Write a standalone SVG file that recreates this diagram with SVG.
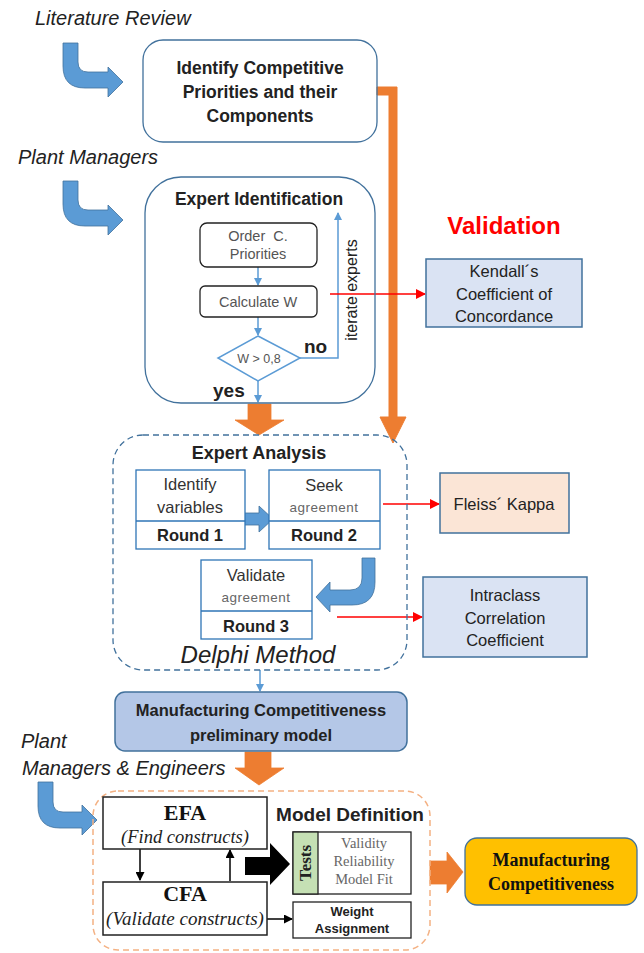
<svg xmlns="http://www.w3.org/2000/svg" width="644" height="953" viewBox="0 0 644 953">
<defs>
<marker id="mBlue" markerWidth="8" markerHeight="8" refX="7" refY="4" orient="auto" markerUnits="userSpaceOnUse"><path d="M0,0 L8,4 L0,8 Z" fill="#5b9bd5"/></marker>
<marker id="mRed" markerWidth="10" markerHeight="10" refX="9" refY="5" orient="auto" markerUnits="userSpaceOnUse"><path d="M0,0 L10,5 L0,10 Z" fill="#ff0000"/></marker>
<marker id="mBlack" markerWidth="9" markerHeight="9" refX="8" refY="4.5" orient="auto" markerUnits="userSpaceOnUse"><path d="M0,0 L9,4.5 L0,9 Z" fill="#000"/></marker>
<style>
.sans{font-family:"Liberation Sans","Open Sans",sans-serif}
.serif{font-family:"Liberation Serif","DejaVu Serif",serif}
.it{font-family:"Liberation Sans",sans-serif;font-style:italic;font-size:20px;fill:#222}
.b{font-weight:bold}
.c{text-anchor:middle}
.blk{fill:none;stroke:#41719c;stroke-width:1.3}
.bluearrow{fill:#5b9bd5;stroke:#41719c;stroke-width:0.8}
.orange{fill:#ed7d31;stroke:#ed7d31}
.thin{fill:none;stroke:#5b9bd5;stroke-width:1.5}
.red{fill:none;stroke:#ff0000;stroke-width:1.3}
.blackln{fill:none;stroke:#000;stroke-width:1.5}
</style>
</defs>

<g id="labels">
<text class="it" x="35" y="25">Literature Review</text>
<text class="it" x="18" y="164">Plant Managers</text>
<text class="it" x="21" y="748">Plant</text>
<text class="it" x="22" y="775">Managers &amp; Engineers</text>
<text class="sans b c" x="504" y="234" font-size="24" fill="#ff0000">Validation</text>
</g>

<g id="connectors">
<path class="bluearrow" d="M63,43 L78,43 L78,62 Q78,72 88,72 L108,72 L108,67 L123,82 L108,97 L108,88 L85,88 Q63,88 63,66 Z"/>
<path class="bluearrow" d="M63,181 L78,181 L78,200 Q78,210 88,210 L108,210 L108,205 L123,220 L108,235 L108,226 L85,226 Q63,226 63,204 Z"/>
<path class="bluearrow" d="M38,782 L53,782 L53,802 Q53,812 63,812 L82,812 L82,805 L97,820 L82,835 L82,828 L60,828 Q38,828 38,806 Z"/>
<path class="bluearrow" d="M238,513 L259,513 L259,506 L273,519 L259,532 L259,525 L238,525 Z"/>
<path class="bluearrow" d="M362,558 L375,558 L375,582 Q375,605 352,605 L330,605 L330,612 L316,597 L330,582 L330,590 L350,590 Q362,590 362,578 Z"/>
<path class="orange" d="M377,87 L397,87 L397,417 L406,417 L393,443 L380,417 L389,417 L389,95 L377,95 Z"/>
<path class="orange" d="M248,404 L271,404 L271,420 L284,420 L259,435 L235,420 L248,420 Z" stroke="#41719c" stroke-width="0.8"/>
<path class="orange" d="M245,752 L271,752 L271,768 L284,768 L259,785 L235,768 L245,768 Z" stroke="#41719c" stroke-width="0.8"/>
<path class="orange" d="M430,861 L447,861 L447,852 L463,872 L447,893 L447,884 L430,884 Z" stroke="#41719c" stroke-width="0.8"/>
<path d="M245,857 L270,857 L270,843 L290,864 L270,885 L270,875 L245,875 Z" fill="#000"/>
<line class="thin" x1="258" y1="267" x2="258" y2="285" marker-end="url(#mBlue)"/>
<line class="thin" x1="258" y1="317" x2="258" y2="335" marker-end="url(#mBlue)"/>
<polyline class="thin" points="300,358 338,358 338,213" marker-end="url(#mBlue)"/>
<line class="thin" x1="258" y1="381" x2="258" y2="402" marker-end="url(#mBlue)"/>
<line class="thin" x1="260" y1="670" x2="260" y2="691" marker-end="url(#mBlue)"/>
<line class="red" x1="330" y1="294" x2="425" y2="294" marker-end="url(#mRed)"/>
<line class="red" x1="383" y1="504" x2="439" y2="504" marker-end="url(#mRed)"/>
<line class="red" x1="337" y1="617" x2="422" y2="617" marker-end="url(#mRed)"/>
<line class="blackln" x1="140" y1="849" x2="140" y2="880" marker-end="url(#mBlack)"/>
<line class="blackln" x1="230" y1="881" x2="230" y2="850" marker-end="url(#mBlack)"/>
<line class="blackln" x1="267" y1="919" x2="292" y2="919" marker-end="url(#mBlack)"/>
</g>

<g id="identify">
<rect class="blk" x="143" y="40" width="234" height="102" rx="20" fill="#fff"/>
<text class="sans b c" x="260" y="74" font-size="17.5" fill="#222">Identify Competitive</text>
<text class="sans b c" x="260" y="98" font-size="17.5" fill="#222">Priorities and their</text>
<text class="sans b c" x="260" y="122" font-size="17.5" fill="#222">Components</text>
</g>

<g id="expert-identification">
<rect class="blk" x="145" y="177" width="230" height="226" rx="36" fill="none"/>
<text class="sans b c" x="259" y="205" font-size="17.5" fill="#222">Expert Identification</text>
</g>

<g id="order">
<rect x="200" y="223" width="117" height="44" rx="7" fill="#fff" stroke="#222" stroke-width="1.3"/>
<text class="sans c" x="258" y="241" font-size="14.5" fill="#555" xml:space="preserve">Order  C.</text>
<text class="sans c" x="258" y="259" font-size="14.5" fill="#555">Priorities</text>
</g>

<g id="calculate">
<rect x="200" y="286" width="117" height="31" rx="5" fill="#fff" stroke="#222" stroke-width="1.3"/>
<text class="sans c" x="258" y="307" font-size="14.5" fill="#555">Calculate W</text>
</g>

<g id="decision">
<polygon points="258,336 300,358 258,381 218,358" fill="#fff" stroke="#5b9bd5" stroke-width="1.5"/>
<text class="sans c" x="259" y="363" font-size="12.5" fill="#555">W &gt; 0,8</text>
<text class="sans b" x="304" y="353" font-size="19" fill="#222">no</text>
<text class="sans b" x="213" y="397" font-size="19" fill="#222">yes</text>
<text class="sans c" transform="translate(357,290) rotate(-90)" font-size="16" fill="#222">iterate experts</text>
</g>

<g id="kendall">
<rect x="426" y="259" width="156" height="68" fill="#dae3f3" stroke="#41719c" stroke-width="1.5"/>
<text class="sans c" x="504" y="277" font-size="16.5" fill="#222">Kendall´s</text>
<text class="sans c" x="504" y="300" font-size="16.5" fill="#222">Coefficient of</text>
<text class="sans c" x="504" y="322" font-size="16.5" fill="#222">Concordance</text>
</g>

<g id="expert-analysis">
<rect x="113" y="435" width="294" height="235" rx="30" fill="none" stroke="#41719c" stroke-width="1.3" stroke-dasharray="6,4"/>
<text class="sans b c" x="259" y="459" font-size="18" fill="#222">Expert Analysis</text>
<text class="sans c" x="258" y="663" font-size="24" font-style="italic" fill="#222">Delphi Method</text>
</g>

<g id="round1">
<rect x="136" y="470" width="109" height="79" fill="#fff" stroke="#2e75b6" stroke-width="1.3"/>
<line x1="136" y1="521" x2="245" y2="521" stroke="#2e75b6" stroke-width="1.3"/>
<text class="sans c" x="190" y="490" font-size="16.5" fill="#333">Identify</text>
<text class="sans c" x="190" y="513" font-size="16.5" fill="#333">variables</text>
<text class="sans b c" x="190" y="541" font-size="16.5" fill="#222">Round 1</text>
</g>

<g id="round2">
<rect x="269" y="470" width="111" height="79" fill="#fff" stroke="#2e75b6" stroke-width="1.3"/>
<line x1="269" y1="521" x2="380" y2="521" stroke="#2e75b6" stroke-width="1.3"/>
<text class="sans c" x="324" y="491" font-size="16.5" fill="#333">Seek</text>
<text class="sans c" x="324" y="512" font-size="13.5" fill="#666" letter-spacing="0.5">agreement</text>
<text class="sans b c" x="324" y="541" font-size="16.5" fill="#222">Round 2</text>
</g>

<g id="round3">
<rect x="201" y="560" width="111" height="79" fill="#fff" stroke="#2e75b6" stroke-width="1.3"/>
<line x1="201" y1="611" x2="312" y2="611" stroke="#2e75b6" stroke-width="1.3"/>
<text class="sans c" x="256" y="581" font-size="16.5" fill="#333">Validate</text>
<text class="sans c" x="256" y="602" font-size="13.5" fill="#666" letter-spacing="0.5">agreement</text>
<text class="sans b c" x="256" y="632" font-size="16.5" fill="#222">Round 3</text>
</g>

<g id="fleiss">
<rect x="440" y="473" width="129" height="60" fill="#fbe5d6" stroke="#41719c" stroke-width="1.5"/>
<text class="sans c" x="504" y="510" font-size="16.5" fill="#222">Fleiss´ Kappa</text>
</g>

<g id="icc">
<rect x="423" y="577" width="164" height="80" fill="#dae3f3" stroke="#41719c" stroke-width="1.5"/>
<text class="sans c" x="505" y="601" font-size="16.5" fill="#222">Intraclass</text>
<text class="sans c" x="505" y="624" font-size="16.5" fill="#222">Correlation</text>
<text class="sans c" x="505" y="646" font-size="16.5" fill="#222">Coefficient</text>
</g>

<g id="preliminary">
<rect x="115" y="692" width="292" height="59" rx="10" fill="#b4c7e7" stroke="#41719c" stroke-width="1.5"/>
<text class="sans b c" x="261" y="716" font-size="16.5" fill="#222">Manufacturing Competitiveness</text>
<text class="sans b c" x="261" y="741" font-size="16.5" fill="#222">preliminary model</text>
</g>

<g id="model-definition">
<rect x="93" y="791" width="337" height="159" rx="25" fill="none" stroke="#f4b183" stroke-width="1.5" stroke-dasharray="6,4"/>
<text class="sans b c" x="350" y="821" font-size="19" fill="#222">Model Definition</text>
</g>

<g id="efa">
<rect x="103" y="797" width="164" height="52" fill="#fff" stroke="#222" stroke-width="1.5"/>
<text class="serif b c" x="185" y="820" font-size="22" fill="#111">EFA</text>
<text class="serif c" x="185" y="843" font-size="18.5" font-style="italic" fill="#222">(Find constructs)</text>
</g>

<g id="cfa">
<rect x="103" y="882" width="164" height="53" fill="#fff" stroke="#222" stroke-width="1.5"/>
<text class="serif b c" x="185" y="901" font-size="22" fill="#111">CFA</text>
<text class="serif c" x="185" y="925" font-size="19" font-style="italic" fill="#222">(Validate constructs)</text>
</g>

<g id="tests">
<rect x="293" y="832" width="118" height="62" fill="#fff" stroke="#222" stroke-width="1.3"/>
<rect x="293" y="832" width="25" height="62" fill="#c5e0b4" stroke="#222" stroke-width="1.3"/>
<text class="serif b c" transform="translate(311,863) rotate(-90)" font-size="17" fill="#222">Tests</text>
<text class="serif c" x="364" y="848" font-size="14.5" fill="#666">Validity</text>
<text class="serif c" x="364" y="866" font-size="14.5" fill="#666">Reliability</text>
<text class="serif c" x="364" y="884" font-size="14.5" fill="#666">Model Fit</text>
</g>

<g id="weight">
<rect x="293" y="902" width="118" height="36" fill="#fff" stroke="#222" stroke-width="1.3"/>
<text class="sans b c" x="352" y="916" font-size="13" fill="#222">Weight</text>
<text class="sans b c" x="352" y="933" font-size="13" fill="#222">Assignment</text>
</g>

<g id="final">
<rect x="465" y="838" width="172" height="67" rx="12" fill="#ffc000" stroke="#41719c" stroke-width="1.3"/>
<text class="serif b c" x="551" y="866" font-size="18" fill="#111">Manufacturing</text>
<text class="serif b c" x="551" y="890" font-size="18" fill="#111">Competitiveness</text>
</g>
</svg>
